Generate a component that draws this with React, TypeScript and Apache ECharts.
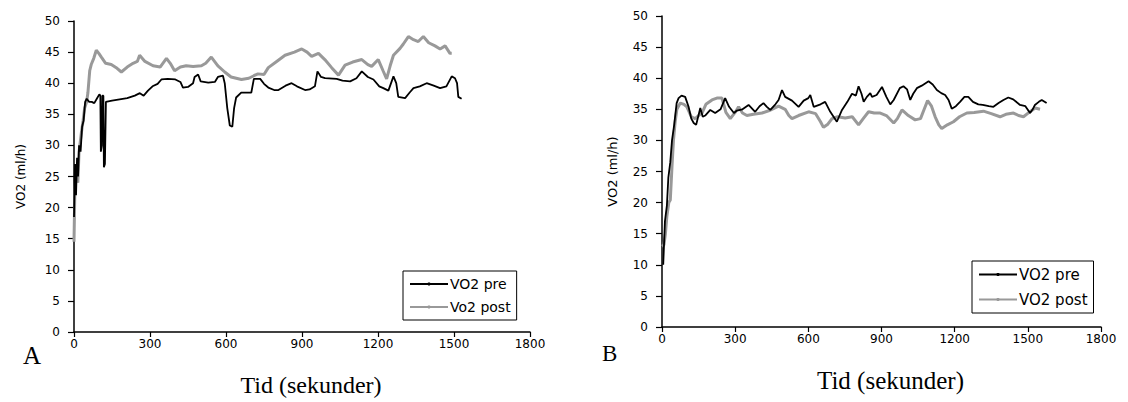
import React, { useEffect, useRef } from "react";
import * as echarts from "echarts";

// Chart A (left)
const preA: [number, number][] = [
  [0, 18.5], [4, 27], [8, 22], [12, 28], [16, 25], [20, 30], [26, 29], [32, 33], [38, 34], [44, 37],
  [50, 37.5], [60, 37], [70, 37], [80, 36.8], [90, 37.5], [100, 38.2], [104, 38], [106, 29], [110, 30],
  [112, 38], [116, 38], [118, 26.5], [122, 27], [126, 37], [150, 37.2], [180, 37.4], [210, 37.6],
  [240, 38], [260, 38.4], [275, 38], [292, 38.8], [310, 39.5], [330, 39.9], [345, 40.6], [370, 40.7],
  [400, 40.6], [420, 40.2], [430, 39.3], [450, 39.4], [470, 40], [476, 41], [490, 41.4], [500, 40.3],
  [530, 40.1], [556, 40.2], [568, 41], [588, 41.2], [595, 40], [605, 36], [615, 33.2], [625, 33],
  [632, 36], [640, 37.7], [660, 38.5], [700, 38.5], [710, 40.7], [735, 40.7], [750, 39.9], [767, 39.3],
  [790, 38.9], [807, 38.9], [835, 39.6], [859, 40], [880, 39.5], [912, 38.9], [930, 39], [951, 39.5],
  [961, 41.9], [975, 41], [991, 40.8], [1037, 40.7], [1060, 40.4], [1090, 40.3], [1115, 40.8],
  [1136, 41.9], [1160, 41], [1182, 40.6], [1205, 39.5], [1221, 39.2], [1241, 38.8], [1261, 41.1],
  [1272, 40], [1280, 37.8], [1307, 37.6], [1325, 38.5], [1340, 39.2], [1365, 39.5], [1392, 40],
  [1420, 39.6], [1445, 39.2], [1470, 39.5], [1491, 41.1], [1504, 40.8], [1512, 40], [1517, 37.8],
  [1530, 37.5],
];

const postA: [number, number][] = [
  [0, 14.5], [3, 22], [8, 26], [15, 24], [20, 29], [29, 32], [36, 34], [42, 36], [50, 37], [55, 38.5],
  [62, 42], [68, 43], [78, 44], [88, 45.3], [98, 44.8], [108, 44.2], [125, 43.2], [147, 43], [170, 42.4],
  [187, 41.8], [210, 42.6], [233, 43.2], [250, 43.5], [259, 44.5], [280, 43.5], [312, 42.8], [340, 42.6],
  [365, 44], [380, 43.2], [397, 42], [420, 42.6], [443, 42.8], [470, 42.7], [503, 42.8], [520, 43.2],
  [542, 44.2], [568, 42.8], [595, 41.8], [620, 41], [661, 40.6], [690, 40.8], [710, 41.2], [726, 41.5],
  [750, 41.4], [767, 42.5], [800, 43.5], [833, 44.5], [870, 45], [899, 45.5], [920, 45], [938, 44.3],
  [965, 44.8], [990, 43.8], [1017, 42.5], [1044, 41.3], [1070, 42.9], [1100, 43.4], [1136, 43.8],
  [1160, 43], [1175, 42.7], [1201, 43.8], [1220, 42], [1234, 40.7], [1248, 42.8], [1261, 44.5],
  [1287, 45.6], [1300, 46.3], [1320, 47.5], [1340, 47], [1359, 46.7], [1379, 47.5], [1400, 46.5],
  [1425, 46], [1445, 45.5], [1465, 46], [1484, 44.8], [1491, 44.8],
];

// Chart B (right)
const preB: [number, number][] = [
  [5, 10], [12, 17], [20, 19.5], [26, 24], [34, 26.5], [41, 30], [50, 32.5], [60, 36], [68, 36.8],
  [80, 37.2], [95, 37], [109, 35.4], [120, 33.5], [130, 32.8], [140, 32.5], [157, 35.2], [167, 33.8],
  [177, 34], [198, 34.9], [218, 34.4], [240, 35], [259, 36.8], [275, 35.4], [295, 34.4], [307, 34.8],
  [330, 35], [355, 35.7], [382, 34.6], [400, 35.5], [416, 36], [430, 35.4], [444, 34.9], [465, 35.8],
  [478, 36.5], [492, 38.1], [505, 37], [533, 36.4], [560, 35.4], [581, 36.4], [600, 36.8], [608, 37.3],
  [622, 35.4], [650, 35.8], [669, 36.2], [690, 34.6], [717, 33], [738, 34.9], [760, 36.2], [779, 37.5],
  [795, 37.2], [806, 38.7], [818, 37.5], [827, 36.2], [840, 37], [854, 37.6], [861, 37], [880, 37.3],
  [902, 38.6], [920, 37], [936, 35.8], [950, 36.5], [975, 38.4], [990, 38.7], [1005, 38.2], [1018, 36.5],
  [1030, 37.5], [1045, 38.4], [1065, 38.8], [1093, 39.5], [1110, 39], [1127, 38.1], [1145, 37.6],
  [1161, 37.3], [1175, 36.5], [1188, 35.1], [1205, 35.5], [1222, 36.2], [1240, 37], [1256, 37],
  [1275, 36.2], [1297, 35.8], [1315, 35.7], [1340, 35.5], [1359, 35.4], [1380, 36], [1400, 36.5],
  [1420, 36.9], [1440, 36.6], [1468, 35.7], [1490, 35.5], [1509, 34.4], [1520, 35], [1529, 35.7],
  [1545, 36.2], [1557, 36.5], [1577, 36],
];

const postB: [number, number][] = [
  [0, 13], [8, 13.2], [14, 15], [20, 17.8], [28, 20], [34, 20.4], [41, 25.8], [47, 30], [54, 33], [61, 35],
  [75, 36], [90, 35.8], [102, 35.4], [120, 33.8], [136, 33.5], [150, 34], [164, 34.4], [180, 35.8],
  [205, 36.5], [225, 36.8], [246, 36.8], [262, 34.5], [280, 33.5], [300, 34.5], [314, 35.4], [330, 34.4],
  [348, 34], [375, 34.2], [410, 34.4], [440, 34.8], [478, 35.5], [505, 35], [520, 34], [533, 33.5],
  [560, 34], [601, 34.6], [630, 34.3], [650, 33], [662, 32.1], [680, 32.6], [697, 33.5], [720, 33.8],
  [751, 33.6], [780, 33.8], [806, 32.5], [825, 33.5], [847, 34.6], [870, 34.4], [895, 34.4], [920, 34],
  [950, 32.8], [965, 33.5], [984, 34.9], [1010, 34], [1038, 33.3], [1060, 33.5], [1075, 35], [1089, 36.4],
  [1105, 35.5], [1120, 33.8], [1135, 32.5], [1147, 31.9], [1170, 32.5], [1195, 33], [1220, 33.8],
  [1250, 34.4], [1280, 34.5], [1318, 34.7], [1350, 34.3], [1386, 33.8], [1410, 34.2], [1441, 34.4],
  [1462, 34], [1482, 33.8], [1505, 34.5], [1530, 35.2], [1550, 35],
];

const legendA = ["VO2 pre", "Vo2 post"];
const legendB = ["VO2 pre", "VO2 post"];
const panelLabels = ["A", "B"];
const xTitle = "Tid (sekunder)";
const yTitle = "VO2 (ml/h)";

const SANS = "DejaVu Sans";
const SERIF = "Liberation Serif";

function xAxis(gridIndex: number, fontSize: number) {
  return {
    type: "value",
    gridIndex,
    min: 0,
    max: 1800,
    interval: 300,
    axisLine: { show: true, lineStyle: { color: "#000", width: 1.5 } },
    axisTick: { show: true, length: 5, lineStyle: { color: "#000", width: 1.2 } },
    splitLine: { show: false },
    axisLabel: {
      color: "#000",
      fontFamily: SANS,
      fontSize: 12,
      margin: 6,
      formatter: (v: number) => String(v),
    },
    name: xTitle,
    nameLocation: "middle",
    nameGap: 41,
    nameTextStyle: { fontFamily: SERIF, fontSize, color: "#000", padding: [0, 0, 0, 18] },
  };
}

function yAxis(gridIndex: number, nameGap: number, nameSize: number) {
  return {
    type: "value",
    gridIndex,
    min: 0,
    max: 50,
    interval: 5,
    axisLine: { show: true, lineStyle: { color: "#000", width: 1.5 } },
    axisTick: { show: true, length: 6, lineStyle: { color: "#000", width: 1.2 } },
    splitLine: { show: false },
    axisLabel: { color: "#000", fontFamily: SANS, fontSize: 12, margin: 14 },
    name: yTitle,
    nameLocation: "middle",
    nameGap,
    nameRotate: 90,
    nameTextStyle: { fontFamily: SANS, fontSize: nameSize, color: "#000" },
  };
}

function lineSeries(name: string, data: [number, number][], idx: number, black: boolean) {
  return {
    type: "line",
    name,
    xAxisIndex: idx,
    yAxisIndex: idx,
    data,
    showSymbol: false,
    symbol: "circle",
    symbolSize: 3,
    itemStyle: { color: black ? "#000" : "#999" },
    lineStyle: { color: black ? "#000" : "#999", width: black ? 1.8 : 3 },
    z: black ? 3 : 2,
  };
}

export default function App() {
  const ref = useRef<HTMLDivElement>(null);
  useEffect(() => {
    if (!ref.current) return;
    const chart = echarts.init(ref.current, undefined, { renderer: "svg" });
    chart.setOption({
      animation: false,
      backgroundColor: "#fff",
      grid: [
        { left: 74, top: 21, width: 456, height: 312 },
        { left: 662, top: 16, width: 439, height: 311 },
      ],
      xAxis: [xAxis(0, 24), xAxis(1, 25)],
      yAxis: [yAxis(0, 47, 12), yAxis(1, 43, 13)],
      legend: [
        {
          left: 403,
          top: 271,
          orient: "vertical",
          data: legendA,
          borderColor: "#000",
          borderWidth: 1,
          borderRadius: 0,
          padding: [6, 6, 6, 6],
          itemGap: 9,
          itemWidth: 38,
          itemHeight: 4,
          textStyle: { fontFamily: SANS, fontSize: 14, color: "#000", padding: [0, 0, 0, -3] },
        },
        {
          left: 972,
          top: 261,
          orient: "vertical",
          data: legendB,
          borderColor: "#000",
          borderWidth: 1,
          borderRadius: 0,
          padding: [6, 6, 6, 6],
          itemGap: 10,
          itemWidth: 38,
          itemHeight: 4,
          textStyle: { fontFamily: SANS, fontSize: 15, color: "#000", padding: [0, 0, 0, -3] },
        },
      ],
      graphic: [
        {
          type: "text",
          left: 23,
          top: 343,
          style: { text: panelLabels[0], font: `25px "${SERIF}"`, fill: "#000" },
        },
        {
          type: "text",
          left: 602,
          top: 342,
          style: { text: panelLabels[1], font: `23px "${SERIF}"`, fill: "#000" },
        },
      ],
      series: [
        lineSeries(legendA[1], postA, 0, false),
        lineSeries(legendA[0], preA, 0, true),
        lineSeries(legendB[1], postB, 1, false),
        lineSeries(legendB[0], preB, 1, true),
      ],
    });
    return () => chart.dispose();
  }, []);
  return (
    <div
      ref={ref}
      style={{ position: "absolute", left: 0, top: 0, width: 1128, height: 402 }}
    />
  );
}
